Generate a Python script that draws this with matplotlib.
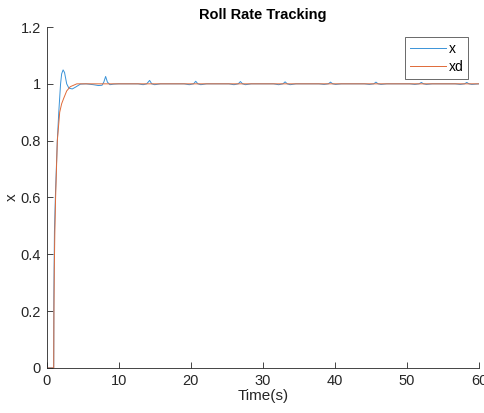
import matplotlib
matplotlib.use("Agg")
import matplotlib.pyplot as plt

plt.rcParams['font.family'] = ['Liberation Sans', 'DejaVu Sans']

# Actual roll rate x(t)
t_x = [0, 1.0, 1.02, 1.1, 1.25, 1.5, 1.7, 1.95, 2.1, 2.3, 2.5, 2.8, 3.1, 3.57, 4.0, 4.7,
       5.5, 6.5, 7.2, 7.7, 7.95, 8.2, 8.45, 8.8, 9.3, 10.0,
       12.7, 13.4, 13.9, 14.3, 14.6, 15.0, 15.8,
       19.1, 19.8, 20.4, 20.7, 21.0, 21.4, 22.2,
       25.3, 26.0, 26.6, 26.9, 27.2, 27.6, 28.4,
       31.5, 32.2, 32.8, 33.1, 33.4, 33.8, 34.6,
       37.8, 38.5, 39.1, 39.4, 39.7, 40.1, 40.9,
       44.1, 44.8, 45.4, 45.7, 46.0, 46.4, 47.2,
       50.4, 51.1, 51.7, 52.0, 52.3, 52.7, 53.5,
       56.7, 57.4, 58.0, 58.3, 58.6, 59.0, 60.0]
x = [0, 0, 0.25, 0.48, 0.62, 0.8, 0.9, 1.0, 1.035, 1.049, 1.04, 1.0, 0.985, 0.982, 0.988, 0.999,
     1.0, 0.997, 0.994, 0.995, 1.006, 1.026, 1.006, 0.997, 0.999, 1.0,
     1.0, 0.997, 1.0, 1.012, 1.0, 0.997, 1.0,
     1.0, 0.997, 1.0, 1.009, 1.0, 0.997, 1.0,
     1.0, 0.997, 1.0, 1.008, 1.0, 0.997, 1.0,
     1.0, 0.997, 1.0, 1.007, 1.0, 0.997, 1.0,
     1.0, 0.998, 1.0, 1.006, 1.0, 0.998, 1.0,
     1.0, 0.998, 1.0, 1.006, 1.0, 0.998, 1.0,
     1.0, 0.998, 1.0, 1.005, 1.0, 0.998, 1.0,
     1.0, 0.998, 1.0, 1.005, 1.0, 0.998, 1.0]

# Desired roll rate xd(t)
t_d = [0, 1.0, 1.03, 1.08, 1.15, 1.25, 1.5, 1.83, 2.1, 2.4, 2.8, 3.3, 4.2, 60.0]
xd = [0, 0, 0.2, 0.35, 0.47, 0.59, 0.8, 0.9, 0.93, 0.95, 0.975, 0.99, 1.0, 1.0]

x_ticks = [0, 10, 20, 30, 40, 50, 60]
y_ticks = [0, 0.2, 0.4, 0.6, 0.8, 1, 1.2]
y_tick_labels = ['0', '0.2', '0.4', '0.6', '0.8', '1', '1.2']

fig = plt.figure(figsize=(4.84, 4.13), dpi=100)
ax = fig.add_axes([0.0961, 0.109, 0.8936, 0.8256])

ax.plot(t_x, x, color='#3A93D8', lw=0.7, label='x')
ax.plot(t_d, xd, color='#E06A38', lw=0.7, label='xd')

ax.set_xlim(0, 60)
ax.set_ylim(0, 1.2)
ax.set_xticks(x_ticks)
ax.set_xticklabels([str(v) for v in x_ticks])
ax.set_yticks(y_ticks)
ax.set_yticklabels(y_tick_labels)

for s in ['top', 'right']:
    ax.spines[s].set_visible(False)
for s in ['left', 'bottom']:
    ax.spines[s].set_color('#262626')
    ax.spines[s].set_linewidth(0.6)

ax.tick_params(direction='in', length=4, width=0.6, colors='#262626',
               labelsize=10.5, pad=4)

ax.set_xlabel('Time(s)', fontsize=11, color='#262626', labelpad=1)
ax.set_ylabel('x', fontsize=11, color='#262626', labelpad=1)
ax.set_title('Roll Rate Tracking', fontsize=10.5, fontweight='bold', pad=6)

leg = ax.legend(loc='upper right', bbox_to_anchor=(0.975, 0.97), fontsize=10,
                frameon=True, fancybox=False, edgecolor='#262626',
                handlelength=2.6, handletextpad=0.2, borderpad=0.35,
                labelspacing=0.3, borderaxespad=0)
leg.get_frame().set_linewidth(0.6)

fig.savefig('out.png', dpi=100)
